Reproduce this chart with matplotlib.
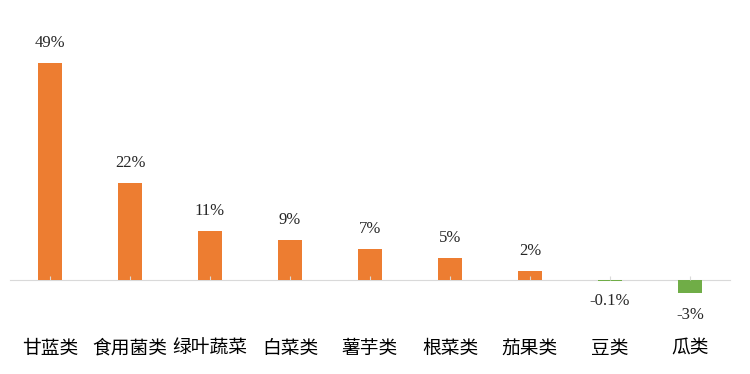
import matplotlib.pyplot as plt
from matplotlib.transforms import blended_transform_factory

# categories and year-on-year change (%)
categories = ['甘蓝类', '食用菌类', '绿叶蔬菜', '白菜类', '薯芋类', '根菜类', '茄果类', '豆类', '瓜类']
values = [49, 22, 11, 9, 7, 5, 2, -0.1, -3]
value_labels = ['49%', '22%', '11%', '9%', '7%', '5%', '2%', '-0.1%', '-3%']

orange = '#ED7D31'
green = '#70AD47'
colors = [orange if v >= 0 else green for v in values]

fig = plt.figure(figsize=(7.5, 3.74), dpi=100)
ax = fig.add_axes([10 / 750, 1 - 300 / 374, 720 / 750, 280 / 374])

x = range(len(categories))
ax.bar(x, values, width=0.31, color=colors)

ax.set_xlim(-0.5, len(categories) - 0.5)
ax.set_ylim(-4.5, 58.7)

for s in ['top', 'right', 'left']:
    ax.spines[s].set_visible(False)
ax.spines['bottom'].set_position(('data', 0))
ax.spines['bottom'].set_color('#D9D9D9')
ax.spines['bottom'].set_zorder(0)
ax.set_yticks([])
ax.set_xticks(list(x))
ax.set_xticklabels([])
ax.tick_params(axis='x', direction='in', length=3, color='#D9D9D9')

for xi, v, lab in zip(x, values, value_labels):
    off = 20 if v >= 0 else -20
    if v <= -1:
        off = -22
    ax.annotate(lab, (xi, v), xytext=(0, off), textcoords='offset pixels',
                ha='center', va='center', fontsize=12,
                family=['Liberation Serif', 'DejaVu Serif'], color='#262626')

trans = blended_transform_factory(ax.transData, fig.transFigure)
for xi, c in zip(x, categories):
    ax.text(xi, 1 - 348 / 374, c, transform=trans, ha='center', va='center',
            fontsize=13.5, family=['Noto Sans CJK SC', 'DejaVu Sans'], color='black')

fig.savefig('out.png', dpi=100)
